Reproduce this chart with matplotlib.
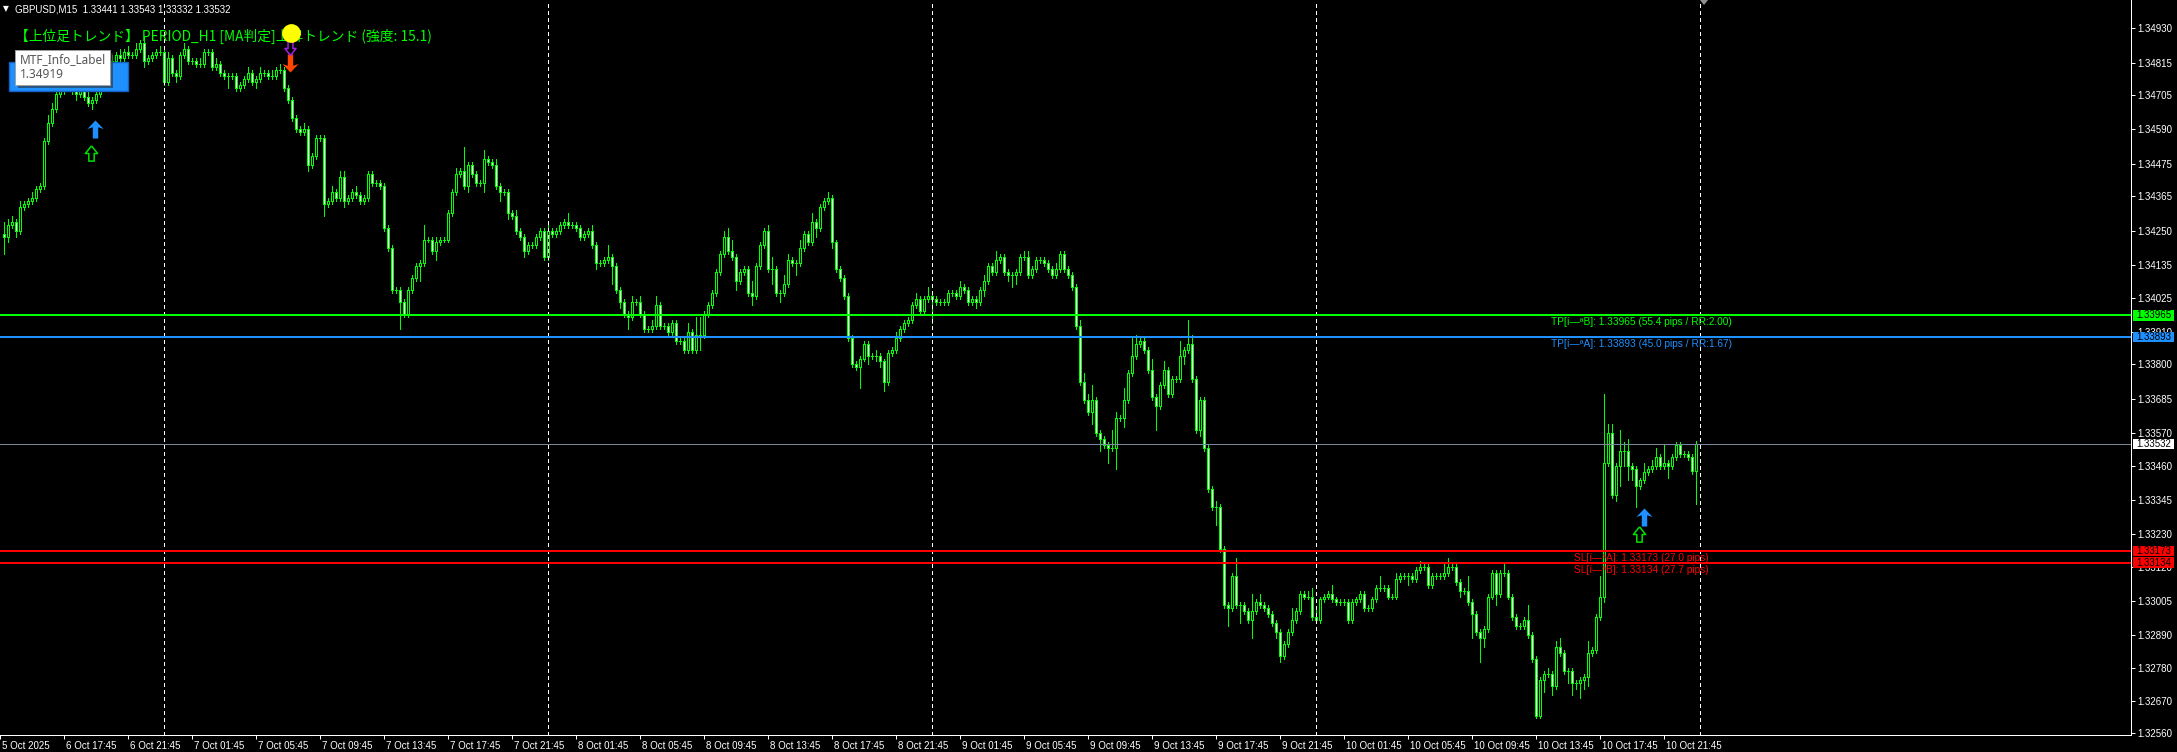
import numpy as np
import matplotlib
matplotlib.use('Agg')
import matplotlib.pyplot as plt
import matplotlib.transforms as mtransforms
from matplotlib.path import Path
from matplotlib.patches import Rectangle, Polygon
from matplotlib import rcParams

rcParams['font.family'] = ['Liberation Sans', 'DejaVu Sans']

W, H = 2177, 752
LIME = '#00FF00'
BLUE = '#1E90FF'
RED = '#FF0000'

# GBPUSD M15 closes, in pips above 1.30000 (left to right, one per bar)
close_pips = [
    423, 427, 428, 425, 433, 434, 435, 436, 439, 440,
    455, 461, 466, 471, 472, 473, 474, 472, 471, 472,
    470, 468, 469, 471, 474, 477, 480, 482, 484, 483,
    485, 484, 484, 486, 488, 482, 483, 484, 485, 485,
    475, 483, 478, 477, 484, 486, 482, 482, 481, 481,
    485, 485, 480, 481, 478, 477, 477, 477, 473, 474,
    476, 478, 475, 476, 478, 478, 477, 477, 479, 479,
    473, 469, 463, 459, 458, 459, 447, 450, 456, 456,
    434, 435, 438, 436, 443, 435, 436, 438, 437, 435,
    436, 444, 441, 441, 440, 426, 419, 405, 405, 401,
    397, 405, 409, 413, 414, 422, 422, 418, 421, 422,
    422, 431, 438, 444, 445, 440, 447, 444, 441, 441,
    449, 448, 447, 440, 438, 438, 431, 430, 425, 423,
    418, 420, 420, 423, 425, 416, 425, 424, 425, 427,
    428, 427, 427, 426, 423, 424, 425, 420, 414, 414,
    415, 416, 413, 405, 401, 397, 396, 401, 401, 397,
    392, 392, 393, 400, 393, 393, 391, 394, 388, 388,
    385, 391, 385, 390, 390, 397, 400, 404, 411, 417,
    423, 418, 416, 408, 411, 412, 404, 403, 413, 420,
    425, 412, 412, 404, 404, 407, 415, 414, 414, 419,
    424, 421, 428, 426, 433, 435, 436, 421, 412, 409,
    403, 389, 380, 379, 382, 387, 383, 383, 383, 381,
    374, 384, 385, 389, 392, 394, 395, 400, 402, 398,
    402, 403, 402, 401, 401, 401, 404, 404, 403, 406,
    405, 401, 402, 401, 405, 408, 413, 411, 415, 416,
    411, 410, 410, 411, 416, 416, 410, 412, 415, 415,
    414, 412, 410, 412, 417, 412, 410, 406, 393, 374,
    368, 364, 368, 357, 355, 353, 352, 352, 362, 362,
    368, 377, 383, 387, 388, 385, 378, 369, 366, 373,
    378, 370, 375, 375, 383, 385, 387, 375, 358, 368,
    352, 338, 332, 332, 318, 299, 298, 309, 299, 299,
    297, 294, 297, 300, 299, 298, 296, 293, 290, 282,
    286, 290, 294, 297, 303, 302, 302, 295, 294, 301,
    302, 303, 301, 300, 300, 300, 294, 300, 301, 303,
    298, 298, 301, 305, 305, 305, 302, 302, 308, 309,
    309, 309, 308, 311, 312, 312, 306, 309, 309, 309,
    310, 312, 312, 307, 304, 304, 300, 296, 290, 288,
    291, 302, 310, 303, 310, 310, 302, 295, 292, 292,
    294, 289, 281, 262, 274, 276, 276, 272, 285, 283,
    277, 277, 273, 273, 274, 275, 283, 284, 295, 302,
    347, 357, 336, 346, 351, 351, 346, 345, 339, 341,
    344, 345, 346, 349, 346, 347, 346, 349, 353, 350,
    350, 349, 344.1, 353.2,
]
first_open_pips = 424

# upper / lower wick beyond the body, in pips
wick_up = [
    4, 2, 2, 1, 2, 1, 1, 2, 1, 1,
    1, 3, 2, 1, 1, 1, 2, 1, 2, 1,
    1, 2, 1, 1, 2, 1, 1, 2, 1, 2,
    1, 2, 1, 2, 1, 2, 1, 1, 1, 2,
    1, 2, 1, 1, 1, 2, 1, 1, 1, 2,
    1, 1, 1, 2, 1, 1, 1, 1, 1, 1,
    1, 2, 1, 1, 2, 1, 1, 2, 1, 2,
    1, 1, 1, 1, 1, 2, 1, 1, 1, 1,
    1, 1, 2, 1, 2, 2, 1, 1, 2, 1,
    1, 1, 1, 1, 1, 1, 1, 1, 1, 1,
    1, 1, 1, 1, 1, 5, 1, 1, 2, 1,
    1, 1, 1, 2, 1, 8, 1, 1, 1, 1,
    3, 1, 1, 2, 1, 1, 1, 1, 2, 1,
    1, 1, 1, 1, 1, 1, 3, 1, 1, 1,
    1, 3, 1, 1, 1, 1, 1, 2, 1, 1,
    1, 4, 1, 1, 1, 1, 1, 2, 1, 2,
    1, 1, 2, 3, 1, 1, 1, 1, 1, 1,
    1, 3, 1, 6, 6, 1, 1, 1, 1, 1,
    2, 3, 4, 1, 1, 1, 1, 4, 1, 1,
    1, 2, 4, 1, 1, 3, 2, 1, 1, 3,
    1, 1, 3, 1, 1, 1, 2, 1, 1, 1,
    1, 1, 1, 1, 1, 1, 1, 1, 2, 1,
    1, 1, 1, 2, 1, 1, 1, 1, 2, 1,
    1, 3, 1, 1, 1, 1, 1, 1, 1, 2,
    1, 1, 1, 1, 1, 2, 1, 1, 3, 1,
    1, 1, 1, 1, 1, 2, 2, 1, 1, 1,
    1, 1, 1, 2, 1, 1, 1, 1, 1, 2,
    3, 2, 5, 1, 1, 1, 1, 6, 2, 1,
    4, 1, 6, 3, 1, 1, 1, 4, 1, 1,
    3, 1, 1, 1, 5, 1, 8, 3, 1, 1,
    1, 1, 1, 2, 1, 1, 1, 1, 6, 1,
    1, 1, 6, 1, 3, 1, 1, 1, 1, 1,
    1, 1, 4, 1, 1, 1, 2, 3, 3, 1,
    1, 1, 3, 1, 1, 1, 1, 1, 1, 1,
    1, 1, 1, 1, 4, 1, 1, 1, 2, 1,
    1, 1, 1, 1, 2, 1, 1, 1, 1, 1,
    3, 3, 1, 1, 1, 1, 5, 1, 1, 1,
    1, 1, 1, 1, 1, 3, 1, 1, 1, 1,
    1, 5, 1, 1, 1, 1, 2, 1, 2, 3,
    1, 1, 1, 1, 1, 1, 4, 1, 1, 7,
    23, 3, 3, 1, 7, 3, 4, 1, 1, 1,
    3, 1, 2, 3, 1, 6, 1, 1, 1, 1,
    1, 1, 1, 1.1,
]
wick_dn = [
    6, 2, 1, 2, 1, 1, 1, 1, 1, 1,
    1, 1, 1, 1, 1, 1, 1, 1, 2, 1,
    1, 1, 2, 1, 1, 1, 1, 1, 1, 1,
    1, 1, 1, 1, 1, 2, 1, 1, 1, 1,
    1, 1, 1, 2, 1, 1, 1, 1, 1, 1,
    1, 1, 1, 1, 1, 1, 4, 1, 1, 1,
    1, 1, 1, 2, 1, 1, 1, 1, 1, 1,
    1, 1, 1, 1, 1, 1, 2, 1, 1, 1,
    4, 1, 1, 1, 1, 2, 1, 1, 1, 1,
    1, 1, 1, 1, 1, 1, 1, 1, 1, 9,
    1, 1, 1, 1, 5, 1, 1, 1, 3, 1,
    1, 1, 1, 1, 1, 1, 2, 1, 1, 1,
    3, 1, 1, 1, 3, 1, 2, 1, 1, 1,
    2, 1, 1, 1, 1, 1, 1, 1, 1, 1,
    1, 1, 1, 1, 1, 1, 1, 1, 2, 1,
    1, 1, 6, 1, 2, 1, 4, 1, 1, 1,
    1, 1, 1, 1, 1, 1, 1, 1, 1, 1,
    1, 1, 1, 1, 5, 1, 1, 1, 1, 1,
    1, 1, 1, 3, 1, 1, 1, 3, 1, 1,
    1, 1, 5, 1, 3, 1, 1, 1, 4, 1,
    1, 1, 1, 3, 1, 1, 1, 2, 1, 1,
    1, 1, 1, 1, 7, 1, 3, 1, 2, 2,
    3, 1, 1, 1, 1, 1, 1, 1, 1, 1,
    1, 1, 8, 1, 1, 1, 1, 1, 1, 1,
    1, 1, 1, 2, 1, 2, 1, 1, 1, 1,
    1, 2, 4, 3, 1, 1, 1, 1, 1, 1,
    1, 1, 1, 1, 1, 1, 1, 1, 1, 1,
    1, 1, 4, 1, 4, 1, 5, 1, 7, 1,
    3, 1, 1, 1, 1, 1, 1, 1, 8, 1,
    1, 1, 1, 1, 1, 3, 1, 1, 1, 2,
    1, 1, 1, 6, 1, 1, 6, 1, 1, 6,
    1, 1, 6, 1, 1, 1, 1, 1, 2, 2,
    1, 1, 1, 1, 1, 1, 1, 1, 1, 1,
    1, 1, 1, 1, 1, 1, 1, 1, 1, 1,
    1, 1, 1, 1, 1, 1, 1, 1, 1, 1,
    1, 3, 1, 1, 1, 1, 1, 1, 1, 1,
    1, 1, 1, 1, 2, 1, 1, 8, 1, 8,
    3, 1, 1, 4, 1, 1, 1, 1, 1, 1,
    1, 1, 1, 1, 1, 4, 1, 3, 1, 1,
    1, 4, 4, 2, 5, 3, 3, 1, 1, 1,
    2, 1, 1, 2, 7, 5, 5, 4, 7, 1,
    1, 1, 1, 1, 1, 1, 4, 1, 1, 1,
    1, 1, 1, 10.9,
]

# price axis
price_ticks = [1.34930, 1.34815, 1.34705, 1.34590, 1.34475, 1.34365, 1.34250,
               1.34135, 1.34025, 1.33910, 1.33800, 1.33685, 1.33570, 1.33460,
               1.33345, 1.33230, 1.33120, 1.33005, 1.32890, 1.32780, 1.32670,
               1.32560]
price_top, price_bottom = 1.350251, 1.325545

# time axis (bar index of each label)
time_tick_bars = [-0.8, 15, 31, 47, 63, 79, 95, 111, 127, 143, 159, 175, 191,
                  207, 223, 239, 255, 271, 287, 303, 319, 335, 351, 367, 383,
                  399, 415]
time_tick_labels = ['5 Oct 2025', '6 Oct 17:45', '6 Oct 21:45', '7 Oct 01:45',
                    '7 Oct 05:45', '7 Oct 09:45', '7 Oct 13:45', '7 Oct 17:45',
                    '7 Oct 21:45', '8 Oct 01:45', '8 Oct 05:45', '8 Oct 09:45',
                    '8 Oct 13:45', '8 Oct 17:45', '8 Oct 21:45', '9 Oct 01:45',
                    '9 Oct 05:45', '9 Oct 09:45', '9 Oct 13:45', '9 Oct 17:45',
                    '9 Oct 21:45', '10 Oct 01:45', '10 Oct 05:45', '10 Oct 09:45',
                    '10 Oct 13:45', '10 Oct 17:45', '10 Oct 21:45']
day_sep_bars = [40, 136, 232, 328, 424]

# TP / SL levels
level_prices = [1.33965, 1.33893, 1.33173, 1.33134]
level_colors = [LIME, BLUE, RED, RED]
level_texts = ['TP[í—ªB]: 1.33965 (55.4 pips / RR:2.00)',
               'TP[í—ªA]: 1.33893 (45.0 pips / RR:1.67)',
               'SL[í—ªA]: 1.33173 (27.0 pips)',
               'SL[í—ªB]: 1.33134 (27.7 pips)']
level_text_bar = 409.4
bid_price = 1.33532

# signal arrows
buy_bars, buy_prices = [22.75, 410], [1.345915, 1.332856]
buy_ok_bars, buy_ok_prices = [21.9, 408.75], [1.345092, 1.332302]
sell_bars, sell_prices = [71.6], [1.348117]
sell_ok_bars, sell_ok_prices = [71.6], [1.348621]
dot_bars, dot_prices = [71.9], [1.349142]

header = 'GBPUSD,M15  1.33441 1.33543 1.33332 1.33532'
trend_text = '【上位足トレンド】 PERIOD_H1 [MA判定]上昇トレンド (強度: 15.1)'


def fx(px):
    return px / W


def fy(py):
    return 1 - py / H


fig = plt.figure(figsize=(W / 100, H / 100), dpi=100, facecolor='black')
ax = fig.add_axes([0, (H - 735) / H, 2131 / W, 735 / H], facecolor='black')
ax.set_xlim(-0.875, 531.875)
ax.set_ylim(price_bottom, price_top)
pix_price = (price_top - price_bottom) / 735   # price per screen pixel

# candles
n = np.arange(len(close_pips))
c = 1.3 + np.array(close_pips) / 1e4
o = np.concatenate([[1.3 + first_open_pips / 1e4], c[:-1]])
hi = np.maximum(o, c) + np.array(wick_up) / 1e4
lo = np.minimum(o, c) - np.array(wick_dn) / 1e4
fill = np.where(c < o, 'white', 'black')
ax.vlines(n, lo, hi, color=LIME, lw=0.72, antialiased=False, zorder=3)
ax.bar(n, c - o, bottom=o, width=0.5, color=fill, edgecolor=LIME,
       linewidth=0.72, antialiased=False, zorder=4)

# day separators
for s in day_sep_bars:
    ax.axvline(s, color='white', lw=0.72, ls=(0, (3, 3)), antialiased=False, zorder=5)

# level lines + labels
ax.axhline(bid_price, color='#778899', lw=0.72, antialiased=False, zorder=5)
for p, col, t in zip(level_prices, level_colors, level_texts):
    ax.axhline(p, color=col, lw=1.44, antialiased=False, zorder=6)
    ax.annotate(t, xy=(level_text_bar, p), xytext=(0, -7), textcoords='offset pixels',
                ha='center', va='center', fontsize=7.3, color=col, zorder=5)

# price tags on the right
tag_prices = level_prices + [bid_price]
tag_colors = level_colors + ['white']
blend = mtransforms.blended_transform_factory(ax.transAxes, ax.transData)
for p, col in zip(tag_prices, tag_colors):
    ax.add_patch(Rectangle((1 + 2 / 2131, p - 5.2 * pix_price), 41 / 2131, 10.4 * pix_price,
                           transform=blend, fc=col, ec='none', clip_on=False, zorder=10))
    ax.text(1 + 22.5 / 2131, p, '%.5f' % p, transform=blend, ha='center', va='center',
            fontsize=7, color='black', clip_on=False, zorder=11)

# arrows
thick_up = Path([(0, 1), (0.9, 0.05), (0.3, 0.25), (0.3, -1), (-0.3, -1),
                 (-0.3, 0.25), (-0.9, 0.05), (0, 1)])
hollow_up = Path([(0, 1), (0.8, 0), (0.35, 0), (0.35, -1), (-0.35, -1),
                  (-0.35, 0), (-0.8, 0), (0, 1)])
thick_dn = Path(thick_up.vertices * [1, -1])
hollow_dn = Path(hollow_up.vertices * [1, -1])
ax.plot(buy_bars, buy_prices, ls='none', marker=thick_up, ms=13, color=BLUE, mew=0, zorder=8)
ax.plot(buy_ok_bars, buy_ok_prices, ls='none', marker=hollow_up, ms=11, mfc='none',
        mec='#00E000', mew=1.1, zorder=8)
ax.plot(sell_bars, sell_prices, ls='none', marker=thick_dn, ms=13, color='#FF4500', mew=0, zorder=8)
ax.plot(sell_ok_bars, sell_ok_prices, ls='none', marker=hollow_dn, ms=10, mfc='none',
        mec='#A020E0', mew=1.1, zorder=8)
ax.plot(dot_bars, dot_prices, ls='none', marker='o', ms=13.5, color='#FFFF00', mew=0, zorder=8)

# axes styling
for side in ['left', 'top']:
    ax.spines[side].set_visible(False)
for side in ['right', 'bottom']:
    ax.spines[side].set_color('white')
    ax.spines[side].set_linewidth(0.72)
ax.yaxis.tick_right()
ax.set_yticks(price_ticks)
ax.set_yticklabels(['%.5f' % v for v in price_ticks])
ax.set_xticks(time_tick_bars)
ax.set_xticklabels(time_tick_labels)
ax.tick_params(axis='both', colors='white', labelsize=7, length=2.9, width=0.72,
               direction='out')
ax.tick_params(axis='y', pad=2)
ax.tick_params(axis='x', pad=1.5)
shift = mtransforms.ScaledTranslation(2 / 100, 0, fig.dpi_scale_trans)
for lab in ax.get_xticklabels():
    lab.set_ha('left')
    lab.set_transform(lab.get_transform() + shift)

# texts at the top left
fig.text(fx(3), fy(9), '▼', color='white', fontsize=5.5, family='DejaVu Sans',
         va='center', ha='left')
fig.text(fx(15), fy(9), header, color='white', fontsize=7, va='center', ha='left')
ax.text(fx(15), fy(36.5), trend_text, transform=fig.transFigure, color=LIME,
        fontsize=9.9, va='center', ha='left', family=['Noto Sans CJK JP', 'DejaVu Sans'],
        zorder=2)

# info label + tooltip
fig.add_artist(Rectangle((fx(9), fy(91)), fx(119), 29 / H, fc=BLUE, ec='#1560C0',
                         lw=1, transform=fig.transFigure, zorder=20))
fig.add_artist(Rectangle((fx(18), fy(87.5)), fx(95), 34.5 / H, fc='#303030', ec='none',
                         alpha=0.6, transform=fig.transFigure, zorder=21))
fig.add_artist(Rectangle((fx(15), fy(84.5)), fx(95), 34.5 / H, fc='white', ec='#A0A0A0',
                         lw=0.7, transform=fig.transFigure, zorder=22))
fig.text(fx(20), fy(60), 'MTF_Info_Label', color='#575757', fontsize=8.5,
         family='Noto Sans', va='center', ha='left', zorder=23)
fig.text(fx(20), fy(75), '1.34919', color='#575757', fontsize=8.5,
         family='Noto Sans', va='center', ha='left', zorder=23)

# chart shift marker
fig.add_artist(Polygon([(fx(1700), fy(0)), (fx(1708), fy(0)), (fx(1704), fy(5))],
                       closed=True, fc='#909090', ec='none', transform=fig.transFigure,
                       zorder=20))

fig.savefig('out.png', dpi=100, facecolor='black')
